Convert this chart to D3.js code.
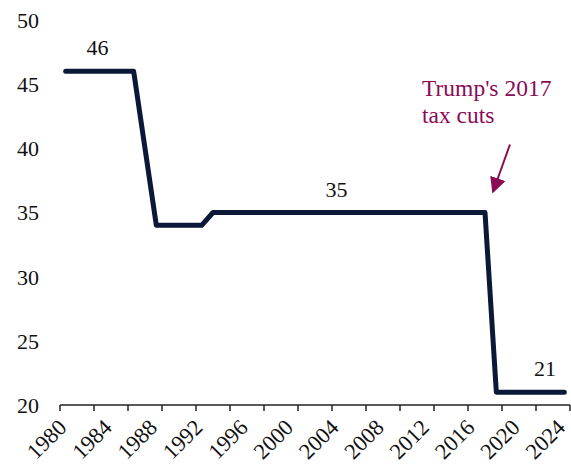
<!DOCTYPE html>
<html>
<head>
<meta charset="utf-8">
<script src="https://cdn.jsdelivr.net/npm/d3@7"></script>
<style>
body { margin: 0; background: #fff; }
text { font-family: "Liberation Serif", "Times New Roman", serif; }
</style>
</head>
<body>
<div id="chart"></div>
<script>
// data
var years = [1980,1981,1982,1983,1984,1985,1986,1987,1988,1989,1990,1991,1992,1993,1994,1995,1996,1997,1998,1999,
  2000,2001,2002,2003,2004,2005,2006,2007,2008,2009,2010,2011,2012,2013,2014,2015,2016,2017,2018,2019,
  2020,2021,2022,2023,2024];
var rates = [46,46,46,46,46,46,46,40,34,34,34,34,34,35,35,35,35,35,35,35,
  35,35,35,35,35,35,35,35,35,35,35,35,35,35,35,35,35,35,21,21,
  21,21,21,21,21];
var xLabels = [1980,1984,1988,1992,1996,2000,2004,2008,2012,2016,2020,2024];
var yTicks = [20,25,30,35,40,45,50];
// label positions in (fractional) years / values
var valueLabels = [{year: 1982.8, value: 46, text: "46"}, {year: 2003.9, value: 35, text: "35"}, {year: 2022.3, value: 21, text: "21"}];
var note = ["Trump's 2017", "tax cuts"];
var arrowFrom = [2019.2, 40.3], arrowTo = [2017.7, 36.6];

var width = 571, height = 466;
var svg = d3.select("#chart").append("svg")
  .attr("width", width)
  .attr("height", height);

var x = d3.scaleBand().domain(years).range([60, 570]).padding(0);
var y = d3.scaleLinear().domain([20, 50]).range([405, 20]);
var cx = function (yr) { return x(yr) + x.bandwidth() / 2; };
// continuous year position (for annotations)
var xl = d3.scaleLinear().domain([1980, 2024]).range([cx(1980), cx(2024)]);

// y labels (no axis line)
svg.selectAll(".ylab")
  .data(yTicks)
  .enter().append("text")
  .attr("x", 39)
  .attr("y", function (d) { return y(d); })
  .attr("dy", "0.36em")
  .attr("text-anchor", "end")
  .attr("font-size", 22)
  .attr("fill", "#111")
  .text(function (d) { return d; });

// x axis line + ticks every 3 categories
svg.append("line")
  .attr("x1", 60).attr("x2", 570)
  .attr("y1", 405).attr("y2", 405)
  .attr("stroke", "#222").attr("stroke-width", 1.5);

var tickPos = years.filter(function (d, i) { return i % 3 === 0; }).map(function (d) { return x(d); });
tickPos.push(x.range()[1]);
svg.selectAll(".tick")
  .data(tickPos)
  .enter().append("line")
  .attr("x1", function (d) { return d; })
  .attr("x2", function (d) { return d; })
  .attr("y1", 405).attr("y2", 411)
  .attr("stroke", "#222").attr("stroke-width", 1.5);

svg.selectAll(".xlab")
  .data(xLabels)
  .enter().append("text")
  .attr("transform", function (d) { return "translate(" + (cx(d) - 3.5) + ",423) rotate(-45)"; })
  .attr("text-anchor", "end")
  .attr("dy", "0.36em")
  .attr("font-size", 22.5)
  .attr("fill", "#111")
  .text(function (d) { return d; });

// line
var line = d3.line()
  .x(function (d, i) { return cx(years[i]); })
  .y(function (d) { return y(d); });

svg.append("path")
  .datum(rates)
  .attr("d", line)
  .attr("fill", "none")
  .attr("stroke", "#0b1838")
  .attr("stroke-width", 5)
  .attr("stroke-linejoin", "round")
  .attr("stroke-linecap", "round");

// value labels
svg.selectAll(".vlab")
  .data(valueLabels)
  .enter().append("text")
  .attr("x", function (d) { return xl(d.year); })
  .attr("y", function (d) { return y(d.value) - 16; })
  .attr("text-anchor", "middle")
  .attr("font-size", 22)
  .attr("fill", "#111")
  .text(function (d) { return d.text; });

// annotation
var maroon = "#8a0b55";
svg.selectAll(".note")
  .data(note)
  .enter().append("text")
  .attr("x", 422)
  .attr("y", function (d, i) { return 96 + i * 27; })
  .attr("font-size", 23.5)
  .attr("fill", maroon)
  .text(function (d) { return d; });

var defs = svg.append("defs");
defs.append("marker")
  .attr("id", "arrow")
  .attr("viewBox", "0 0 10 10")
  .attr("refX", 9).attr("refY", 5)
  .attr("markerWidth", 8).attr("markerHeight", 8)
  .attr("markerUnits", "strokeWidth")
  .attr("orient", "auto")
  .append("path")
  .attr("d", "M0,0 L10,5 L0,10 z")
  .attr("fill", maroon);

svg.append("line")
  .attr("x1", xl(arrowFrom[0])).attr("y1", y(arrowFrom[1]))
  .attr("x2", xl(arrowTo[0])).attr("y2", y(arrowTo[1]))
  .attr("stroke", maroon)
  .attr("stroke-width", 2)
  .attr("marker-end", "url(#arrow)");
</script>
</body>
</html>
